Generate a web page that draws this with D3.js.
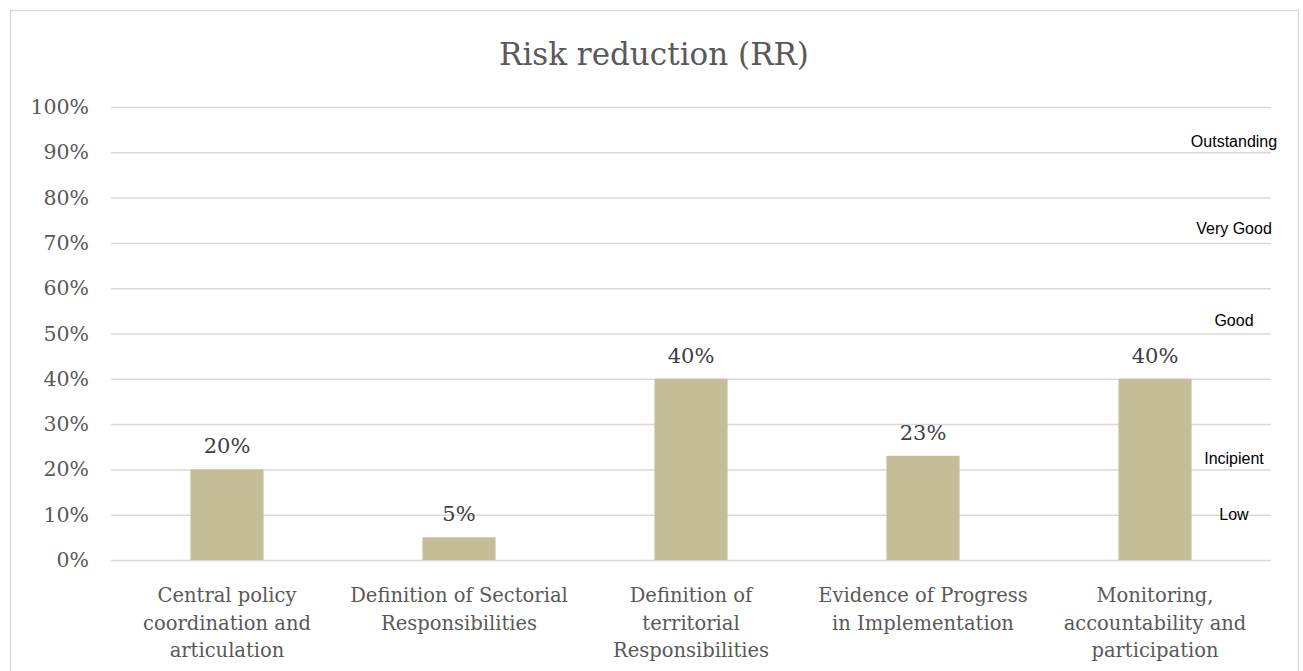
<!DOCTYPE html>
<html>
<head>
<meta charset="utf-8">
<script src="https://cdn.jsdelivr.net/npm/d3@7"></script>
<style>
  html, body { margin: 0; padding: 0; background: #ffffff; }
  svg { display: block; }
</style>
</head>
<body>
<svg id="chart" width="1303" height="671"></svg>
<script>
// Categories (each entry is the wrapped label lines)
const categories = [
  ["Central policy", "coordination and", "articulation"],
  ["Definition of Sectorial", "Responsibilities"],
  ["Definition of", "territorial", "Responsibilities"],
  ["Evidence of Progress", "in Implementation"],
  ["Monitoring,", "accountability and", "participation"]
];
const values = [0.20, 0.05, 0.40, 0.23, 0.40];
const yTicks = [0, 0.1, 0.2, 0.3, 0.4, 0.5, 0.6, 0.7, 0.8, 0.9, 1.0];
// Rating bands written along the right edge, placed at their level
const levelNames = ["Outstanding", "Very Good", "Good", "Incipient", "Low"];
const levelPositions = [0.923, 0.733, 0.53, 0.225, 0.10];

const serif = "'DejaVu Serif', 'Liberation Serif', serif";
const svg = d3.select("#chart");
const plot = { left: 111, right: 1271, top: 107, bottom: 560 };

// chart frame
svg.append("rect")
  .attr("x", 10.5).attr("y", 10.5)
  .attr("width", 1288).attr("height", 680)
  .attr("fill", "#ffffff").attr("stroke", "#d9d9d9").attr("stroke-width", 1.3);

const x = d3.scaleBand()
  .domain(d3.range(categories.length))
  .range([plot.left, plot.right])
  .paddingInner(0.685).paddingOuter(0.3425);

const xCat = d3.scaleBand()
  .domain(d3.range(categories.length))
  .range([plot.left, plot.right]);

const y = d3.scaleLinear().domain([0, 1]).range([plot.bottom, plot.top]);

// title
svg.append("text")
  .attr("x", 654).attr("y", 65)
  .attr("text-anchor", "middle")
  .attr("font-family", serif)
  .attr("font-size", 31)
  .attr("fill", "#595959")
  .text("Risk reduction (RR)");

// gridlines + y labels via axis
const yAxis = d3.axisLeft(y)
  .tickValues(yTicks)
  .tickFormat(d3.format(".0%"))
  .tickSize(-(plot.right - plot.left))
  .tickPadding(22);

const gy = svg.append("g")
  .attr("transform", `translate(${plot.left},0)`)
  .call(yAxis);
gy.select(".domain").remove();
gy.selectAll(".tick line").attr("stroke", "#d9d9d9").attr("stroke-width", 1.5);
gy.selectAll(".tick text")
  .attr("font-family", serif)
  .attr("font-size", 20.5)
  .attr("fill", "#595959");

// bars
svg.append("g").selectAll("rect")
  .data(values)
  .join("rect")
  .attr("x", (d, i) => x(i))
  .attr("width", x.bandwidth())
  .attr("y", d => y(d))
  .attr("height", d => y(0) - y(d))
  .attr("fill", "#c4bd97");

// value labels
svg.append("g").selectAll("text")
  .data(values)
  .join("text")
  .attr("x", (d, i) => x(i) + x.bandwidth() / 2)
  .attr("y", d => y(d) - 16)
  .attr("text-anchor", "middle")
  .attr("font-family", serif)
  .attr("font-size", 21)
  .attr("fill", "#404040")
  .text(d => d3.format(".0%")(d));

// category labels
const catG = svg.append("g");
categories.forEach((lines, i) => {
  const t = catG.append("text")
    .attr("text-anchor", "middle")
    .attr("font-family", serif)
    .attr("font-size", 19.5)
    .attr("fill", "#595959");
  lines.forEach((ln, j) => {
    t.append("tspan")
      .attr("x", xCat(i) + xCat.bandwidth() / 2)
      .attr("y", 602 + j * 27.5)
      .text(ln);
  });
});

// rating labels
svg.append("g").selectAll("text")
  .data(levelNames)
  .join("text")
  .attr("x", 1234)
  .attr("y", (d, i) => y(levelPositions[i]))
  .attr("dy", "0.35em")
  .attr("text-anchor", "middle")
  .attr("font-family", "'Liberation Sans', Arial, sans-serif")
  .attr("font-size", 16)
  .attr("fill", "#000000")
  .text(d => d);
</script>
</body>
</html>
